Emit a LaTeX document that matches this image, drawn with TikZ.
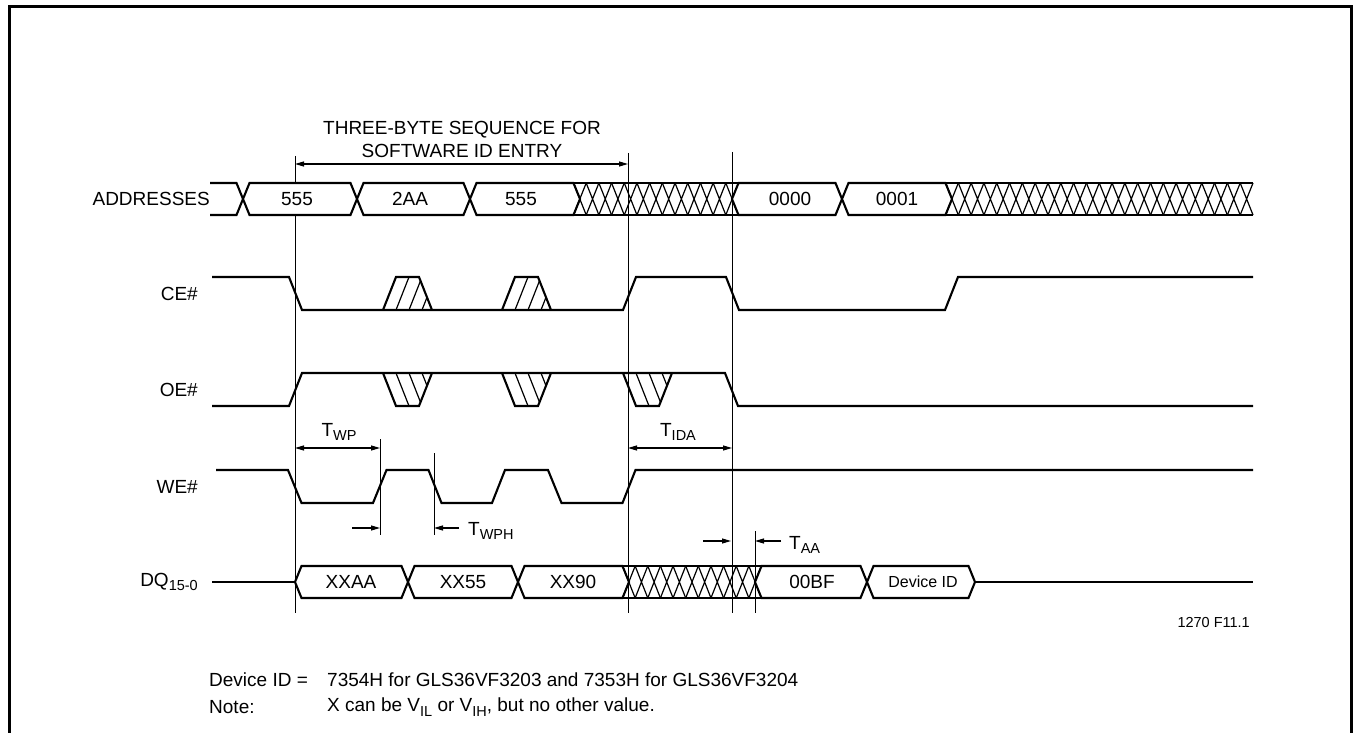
\documentclass[tikz,border=0pt]{standalone}
\usepackage{fontspec}
\setmainfont{Liberation Sans}
\usetikzlibrary{arrows.meta}
\newcommand\subs[1]{\raisebox{-0.45ex}{\fontsize{14.5}{15}\selectfont #1}}
\newcommand\myhatch[5]{% xa, xb, n, top, bot
  \pgfmathsetmacro\cw{(#2-#1)/#3}
  \draw[sig] (#1,#4) -- (#2,#4) (#1,#5) -- (#2,#5);
  \foreach \i in {1,...,#3}{
    \draw[hat] ({#1+(\i-1)*\cw},#4) -- ({#1+\i*\cw},#5)
               ({#1+(\i-1)*\cw},#5) -- ({#1+\i*\cw},#4);
  }}
\newcommand\myhex[5]{% a, b, top, bot, mid
  \draw[sig, fill=white] (#1,#5) -- ({#1+6.5},#3) -- ({#2-6.5},#3) -- (#2,#5) -- ({#2-6.5},#4) -- ({#1+6.5},#4) -- cycle;}
\newcommand\mytrap[3]{% x0, base, far
  \draw[sig] (#1,#2) -- ({#1+13},#3) -- ({#1+36},#3) -- ({#1+49},#2);
  \begin{scope}
    \clip (#1,#2) -- ({#1+13},#3) -- ({#1+36},#3) -- ({#1+49},#2) -- cycle;
    \foreach \k in {1,2,3}{\draw[hat] ({#1+13*\k},#2) -- ({#1+13+13*\k},#3);}
  \end{scope}}
\begin{document}
\begin{tikzpicture}[x=1pt,y=-1pt,
  sig/.style={line width=2.1pt, line join=miter, line cap=butt},
  hat/.style={line width=1.2pt},
  vline/.style={line width=1pt},
  dimone/.style={line width=1.1pt, -{Triangle[length=9pt,width=5pt]}},
  dimtwo/.style={line width=1.1pt, {Triangle[length=9pt,width=5pt]}-{Triangle[length=9pt,width=5pt]}},
  lbl/.style={font=\fontsize{19}{23}\selectfont, inner sep=0pt},
  sml/.style={font=\fontsize{16}{19}\selectfont, inner sep=0pt},
  note/.style={font=\fontsize{19}{22}\selectfont, inner sep=0pt, anchor=west}]
\useasboundingbox (0,0) rectangle (1353,733);
% frame
\draw[line width=3pt] (9,733) -- (9,7) -- (1351,7) -- (1351,733);

% title
\node[lbl, align=center] (title) at (462,139) {THREE-BYTE SEQUENCE FOR\\SOFTWARE ID ENTRY};

% vertical reference lines
\coordinate (v1t) at (295,156); \coordinate (v1b) at (295,613);
\coordinate (v2t) at (628,153); \coordinate (v2b) at (628,613);
\coordinate (v3t) at (732,152); \coordinate (v3b) at (732,613);
\coordinate (v4t) at (380,439); \coordinate (v4b) at (380,535);
\coordinate (v5t) at (434,453); \coordinate (v5b) at (434,535);
\coordinate (v6t) at (755,531); \coordinate (v6b) at (755,613);
\foreach \a/\b in {v1t/v1b,v2t/v2b,v3t/v3b,v4t/v4b,v5t/v5b,v6t/v6b}{\draw[vline] (\a) -- (\b);}

% labels
\node[lbl, anchor=east] (laddr) at (210,199) {ADDRESSES};
\node[lbl, anchor=east] (lce) at (198,294) {CE\#};
\node[lbl, anchor=east] (loe) at (198,390) {OE\#};
\node[lbl, anchor=east] (lwe) at (198,487) {WE\#};
\node[lbl, anchor=east] (ldq) at (198,582) {DQ\subs{15-0}};

% ADDRESSES bus
\draw[sig] (210,183) -- (236.5,183) -- (243,199) -- (236.5,215) -- (210,215);
\myhex{243}{357}{183}{215}{199}
\myhex{357}{470}{183}{215}{199}
\myhex{470}{580}{183}{215}{199}
\myhatch{573.5}{738.5}{13}{183}{215}
\myhex{732}{842}{183}{215}{199}
\myhex{842}{952}{183}{215}{199}
\myhatch{945.5}{1253}{24}{183}{215}
\node[lbl] (a1) at (297,199) {555};
\node[lbl] (a2) at (410,199) {2AA};
\node[lbl] (a3) at (521,199) {555};
\node[lbl] (a4) at (790,199) {0000};
\node[lbl] (a5) at (897,199) {0001};

% CE#
\draw[sig] (212,277) -- (289,277) -- (302,310) -- (623,310) -- (636,277) -- (726,277) -- (739,310) -- (945,310) -- (958,277) -- (1253,277);
\mytrap{383}{310}{277}
\mytrap{502}{310}{277}

% OE#
\draw[sig] (212,406) -- (289,406) -- (302,373) -- (725,373) -- (738,406) -- (1253,406);
\mytrap{383}{373}{406}
\mytrap{502}{373}{406}
\mytrap{623}{373}{406}

% WE#
\draw[sig] (216,470) -- (288,470) -- (301.5,503) -- (373,503) -- (386.5,470) -- (428.5,470) -- (441.5,503) -- (492,503) -- (505,470) -- (548,470) -- (561.5,503) -- (622.5,503) -- (635.5,470) -- (1253,470);

% DQ bus
\draw[sig] (212,582) -- (295,582);
\myhex{295}{408}{566}{598}{582}
\myhex{408}{518}{566}{598}{582}
\myhex{518}{629}{566}{598}{582}
\myhatch{622.5}{761.5}{11}{566}{598}
\myhex{755}{867}{566}{598}{582}
\myhex{867}{975}{566}{598}{582}
\draw[sig] (975,582) -- (1253,582);
\node[lbl] (d1) at (351,582) {XXAA};
\node[lbl] (d2) at (463,582) {XX55};
\node[lbl] (d3) at (573,582) {XX90};
\node[lbl] (d4) at (812,582) {00BF};
\node[sml] (d5) at (923,582) {Device ID};

% timing dimensions
\coordinate (sA) at (295,164); \coordinate (sB) at (628,164);
\draw[dimtwo] (sA) -- (sB);
\coordinate (wpA) at (295,448); \coordinate (wpB) at (380,448);
\draw[dimtwo] (wpA) -- (wpB);
\node[lbl] (twp) at (339,432) {T\subs{WP}};
\coordinate (idA) at (628,448); \coordinate (idB) at (732,448);
\draw[dimtwo] (idA) -- (idB);
\node[lbl] (tida) at (678,432) {T\subs{IDA}};
\coordinate (whA) at (352,528); \coordinate (whB) at (380,528);
\draw[dimone] (whA) -- (whB);
\coordinate (whC) at (459,528); \coordinate (whD) at (434,528);
\draw[dimone] (whC) -- (whD);
\node[lbl, anchor=west] (twph) at (468,531) {T\subs{WPH}};
\coordinate (aaA) at (703,541); \coordinate (aaB) at (731,541);
\draw[dimone] (aaA) -- (aaB);
\coordinate (aaC) at (781,541); \coordinate (aaD) at (755,541);
\draw[dimone] (aaC) -- (aaD);
\node[lbl, anchor=west] (taa) at (789,545) {T\subs{AA}};

% figure id and notes
\node[font=\fontsize{14.5}{17}\selectfont, inner sep=0pt, anchor=east] (fig) at (1250,623) {1270 F11.1};
\node[note] (n1) at (209,680) {Device ID =};
\node[note] (n2) at (327,680) {7354H for GLS36VF3203 and 7353H for GLS36VF3204};
\node[note] (n3) at (209,707) {Note:};
\node[note] (n4) at (327,707) {X can be V\subs{IL} or V\subs{IH}, but no other value.};
\end{tikzpicture}
\end{document}
